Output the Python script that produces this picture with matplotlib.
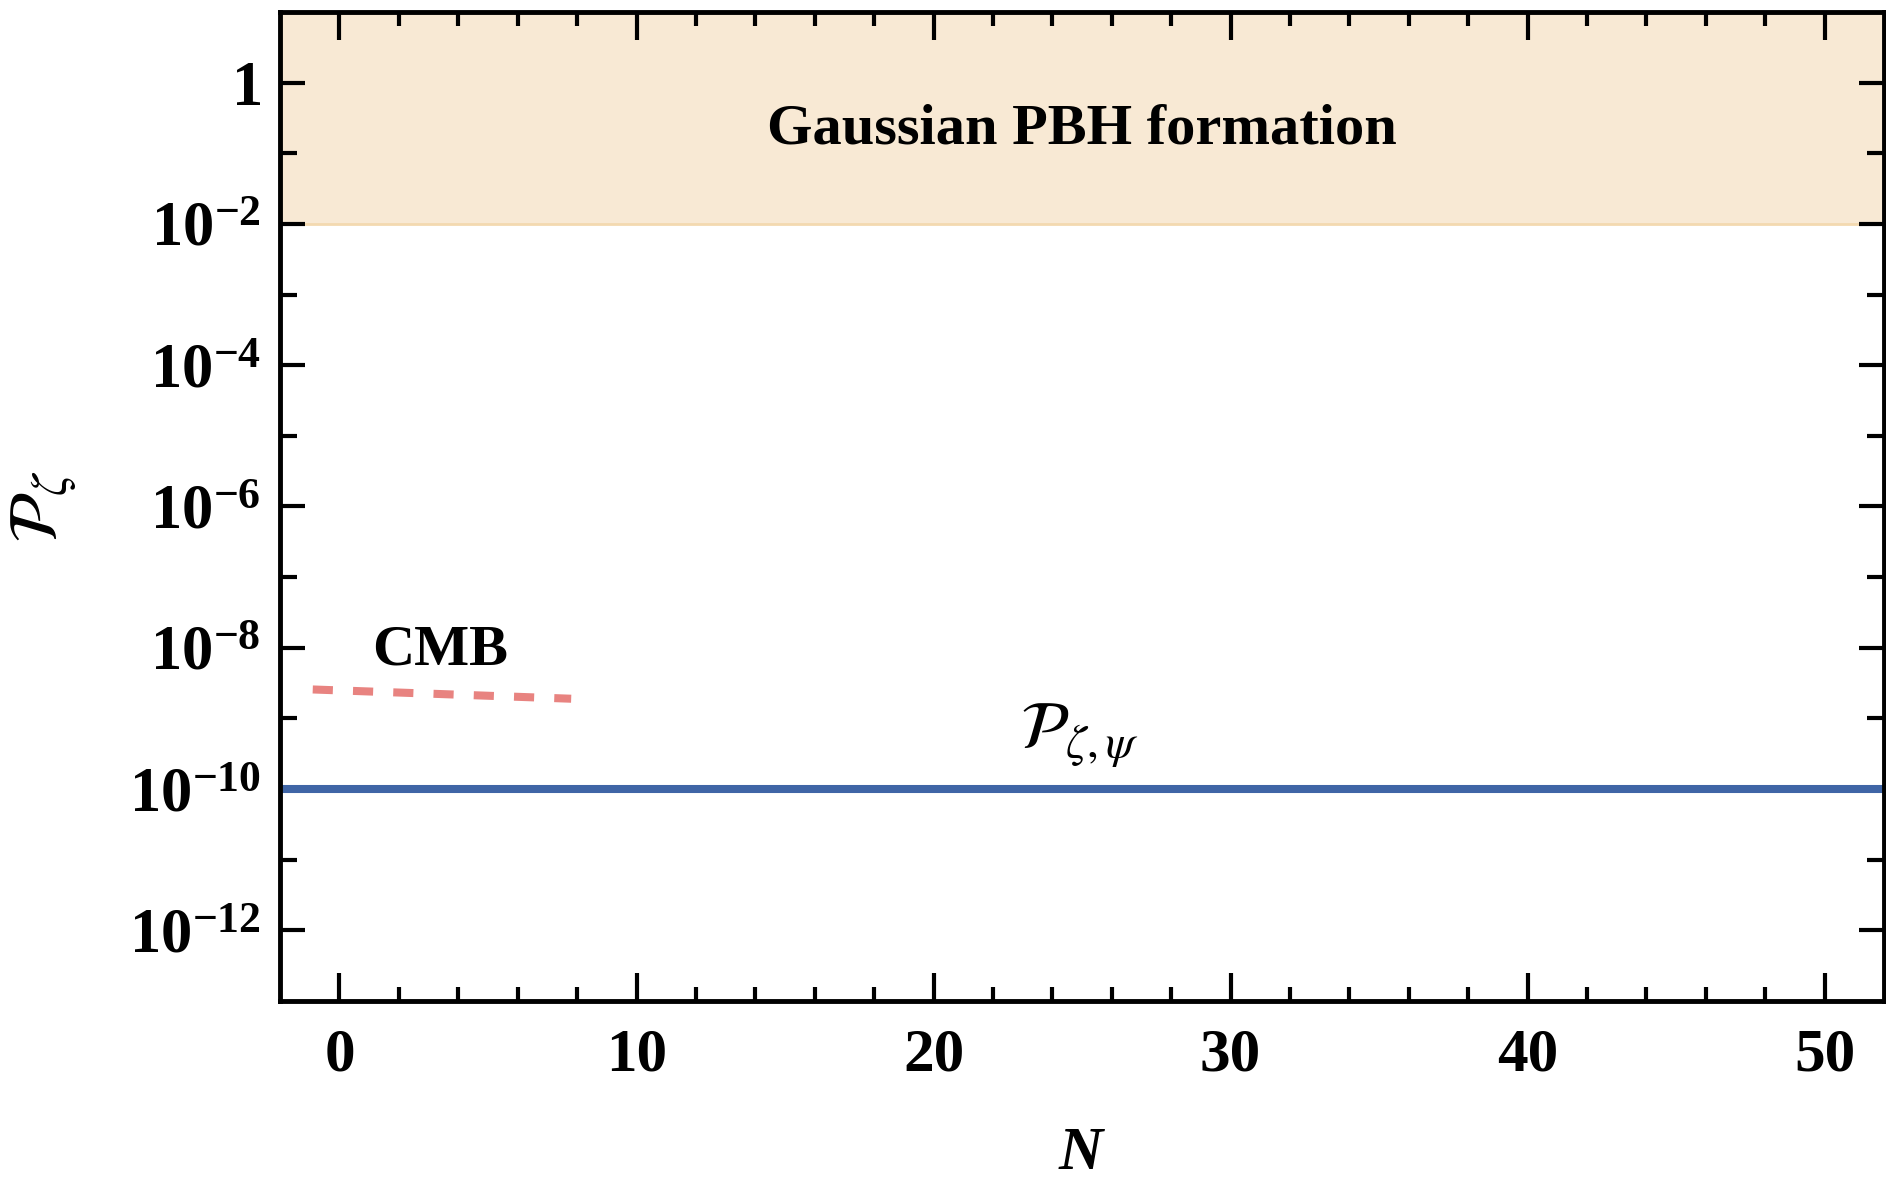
import matplotlib
matplotlib.use("Agg")
import matplotlib.pyplot as plt
from matplotlib.ticker import FixedLocator, FixedFormatter

plt.rcParams["font.family"] = "Liberation Serif"
plt.rcParams["mathtext.fontset"] = "custom"
plt.rcParams["mathtext.rm"] = "Liberation Serif:bold"
plt.rcParams["mathtext.bf"] = "Liberation Serif:bold"
plt.rcParams["mathtext.it"] = "Liberation Serif:bold:italic"

# Data
N_range = [-2, 52]
P_range = [1e-13, 1e1]
pbh_threshold = 1e-2
P_zeta_psi = 1e-10
N_cmb = [-0.9, 7.8]
P_cmb = [2.57e-9, 1.9e-9]

x_major = [0, 10, 20, 30, 40, 50]
x_minor = [2, 4, 6, 8, 12, 14, 16, 18, 22, 24, 26, 28, 32, 34, 36, 38, 42, 44, 46, 48]
y_major = [1e0, 1e-2, 1e-4, 1e-6, 1e-8, 1e-10, 1e-12]
y_minor = [1e-1, 1e-3, 1e-5, 1e-7, 1e-9, 1e-11]
y_labels = [r"$\mathbf{1}$", r"$\mathbf{10^{-2}}$", r"$\mathbf{10^{-4}}$", r"$\mathbf{10^{-6}}$",
            r"$\mathbf{10^{-8}}$", r"$\mathbf{10^{-10}}$", r"$\mathbf{10^{-12}}$"]

fig = plt.figure(figsize=(18.86, 11.87), dpi=100)
ax = fig.add_axes([0.1485, 0.1567, 0.8505, 0.8332])

# PBH formation region
ax.axhspan(pbh_threshold, P_range[1], color="#F8E9D4", lw=0, zorder=0)
ax.axhline(pbh_threshold, color="#F3D9B0", lw=2.0, zorder=1)

ax.plot(N_range, [P_zeta_psi, P_zeta_psi], color="#3F65A6", lw=5.8, solid_capstyle="butt", zorder=3)
ax.plot(N_cmb, P_cmb, color="#E88380", lw=5.8, dashes=(2.5, 2.5), zorder=3)

ax.set_yscale("log")
ax.set_xlim(N_range)
ax.set_ylim(P_range)

ax.xaxis.set_major_locator(FixedLocator(x_major))
ax.xaxis.set_minor_locator(FixedLocator(x_minor))
ax.yaxis.set_major_locator(FixedLocator(y_major))
ax.yaxis.set_major_formatter(FixedFormatter(y_labels))
ax.yaxis.set_minor_locator(FixedLocator(y_minor))
ax.yaxis.set_minor_formatter(FixedFormatter([""] * len(y_minor)))

ax.tick_params(which="both", direction="in", top=True, right=True, width=3, color="black")
ax.tick_params(axis="x", which="major", length=20, labelsize=44, pad=19)
ax.tick_params(axis="x", which="minor", length=10)
ax.tick_params(axis="y", which="major", length=18, labelsize=45, pad=14)
ax.tick_params(axis="y", which="minor", length=12)
plt.setp(ax.get_xticklabels(), fontweight="bold")

for s in ax.spines.values():
    s.set_linewidth(3.5)
    s.set_zorder(5)

ax.text(25, 0.22, "Gaussian PBH formation", fontsize=42, fontweight="bold", ha="center", va="center")
ax.text(3.4, 9.1e-9, "CMB", fontsize=42, fontweight="bold", ha="center", va="center")
ax.text(24.9, 5.6e-10, r"$\mathcal{P}_{\zeta,\psi}$", fontsize=48, ha="center", va="center",
        math_fontfamily="stix")

ax.set_xlabel(r"$N$", fontsize=44, labelpad=31)
ax.set_ylabel(r"$\mathcal{P}_\zeta$", fontsize=50, math_fontfamily="stix")
ax.yaxis.set_label_coords(-0.125, 0.5)

fig.savefig("out.png", dpi=100)
